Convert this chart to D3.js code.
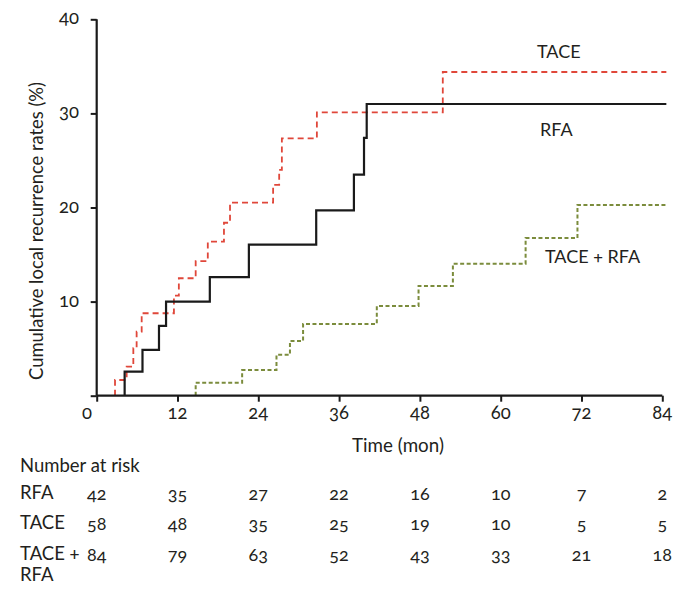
<!DOCTYPE html>
<html><head><meta charset="utf-8">
<script src="https://cdn.jsdelivr.net/npm/d3@7"></script>
<style>
body{margin:0;background:#fff;}
text{font-family:Lato,"Open Sans",sans-serif;fill:#231f20;font-variant-numeric:oldstyle-nums;}
</style></head>
<body><svg id="c" width="695" height="599"></svg>
<script>
// Step data (time in months, cumulative %)
const rfaTimes = [4.15, 6.8, 9.25, 10.3, 16.8, 22.6, 32.6, 38.2, 39.7, 40.1];
const rfaValues = [2.55, 4.86, 7.41, 10.0, 12.6, 16.05, 19.7, 23.5, 27.4, 31.0];
const taceTimes = [2.72, 4.45, 5.44, 5.93, 6.68, 11.47, 12.2, 14.7, 16.5, 18.9, 19.8, 26.2, 27.1, 27.5, 32.7, 51.4];
const taceValues = [1.67, 3.08, 5.04, 6.8, 8.76, 10.63, 12.48, 14.31, 16.37, 18.38, 20.51, 22.4, 24.0, 27.35, 30.1, 34.4];
const comboTimes = [14.7, 21.6, 26.7, 28.7, 30.65, 41.6, 47.8, 52.9, 63.7, 71.4];
const comboValues = [1.38, 2.73, 4.36, 5.81, 7.62, 9.53, 11.66, 14.03, 16.76, 20.27];
const xTicks = [0, 12, 24, 36, 48, 60, 72, 84];
const yTicks = [0, 10, 20, 30, 40];
const riskRFA = [42, 35, 27, 22, 16, 10, 7, 2];
const riskTACE = [58, 48, 35, 25, 19, 10, 5, 5];
const riskCombo = [84, 79, 63, 52, 43, 33, 21, 18];

const svg = d3.select("#c");
const x = d3.scaleLinear().domain([0, 84]).range([96.7, 662.3]);
const y = d3.scaleLinear().domain([0, 40]).range([395.7, 19.3]);

function pts(times, vals) {
  const p = [[times[0], 0]];
  times.forEach((t, i) => p.push([t, vals[i]]));
  p.push([84.6, vals[vals.length - 1]]);
  return p;
}
const line = d3.line().x(d => x(d[0])).y(d => y(d[1])).curve(d3.curveStepAfter);

svg.append("path").attr("d", line(pts(comboTimes, comboValues)))
  .attr("fill", "none").attr("stroke", "#7b8c3c").attr("stroke-width", 2).attr("stroke-dasharray", "4,2.5");
svg.append("path").attr("d", line(pts(taceTimes, taceValues)))
  .attr("fill", "none").attr("stroke", "#e0473a").attr("stroke-width", 1.8).attr("stroke-dasharray", "6,4");
svg.append("path").attr("d", line(pts(rfaTimes, rfaValues)))
  .attr("fill", "none").attr("stroke", "#1a1a1a").attr("stroke-width", 2.2);

// axes
const xAxis = svg.append("g").attr("transform", `translate(0,${y(0)})`)
  .call(d3.axisBottom(x).tickValues(xTicks).tickSize(6).tickFormat(""));
const yAxis = svg.append("g").attr("transform", `translate(${x(0)},0)`)
  .call(d3.axisLeft(y).tickValues(yTicks).tickSize(6).tickFormat(""));
[xAxis, yAxis].forEach(g => {
  g.select(".domain").attr("stroke", "#1a1a1a").attr("stroke-width", 2.2)
    .attr("d", g === xAxis ? `M${x(0)},0H${x(84)}` : `M0,${y(0)}V${y(40)}`);
  g.selectAll(".tick line").attr("stroke", "#1a1a1a").attr("stroke-width", 2);
});

// tick labels
svg.append("g").selectAll("text").data(xTicks).join("text")
  .attr("x", d => d === 0 ? 87 : x(d)).attr("y", 419)
  .attr("text-anchor", "middle").attr("font-size", 18.5).text(d => d);
svg.append("g").selectAll("text").data(yTicks.filter(d => d > 0)).join("text")
  .attr("x", 79).attr("y", d => y(d) + 5)
  .attr("text-anchor", "end").attr("font-size", 18.5).text(d => d);

// axis titles
svg.append("text").attr("x", 398).attr("y", 452).attr("text-anchor", "middle")
  .attr("font-size", 18.8).text("Time (mon)");
svg.append("text").attr("transform", "translate(43,231) rotate(-90)")
  .attr("text-anchor", "middle").attr("font-size", 18.4).text("Cumulative local recurrence rates (%)");

// curve labels
svg.append("text").attr("x", 537).attr("y", 58).attr("font-size", 18).text("TACE");
svg.append("text").attr("x", 540).attr("y", 136).attr("font-size", 18).text("RFA");
svg.append("text").attr("x", 545).attr("y", 263).attr("font-size", 18).text("TACE + RFA");

// risk table
svg.append("text").attr("x", 20).attr("y", 472).attr("font-size", 18.5).text("Number at risk");
const rows = [["RFA", riskRFA, 499], ["TACE", riskTACE, 529], ["TACE +", riskCombo, 560]];
rows.forEach(([lab, vals, yy]) => {
  svg.append("text").attr("x", 20).attr("y", yy).attr("font-size", 18.5).text(lab);
  svg.append("g").selectAll("text").data(vals).join("text")
    .attr("x", (d, i) => x(xTicks[i])).attr("y", yy + 1)
    .attr("text-anchor", "middle").attr("font-size", 18).text(d => d);
});
svg.append("text").attr("x", 20).attr("y", 581).attr("font-size", 18.5).text("RFA");
</script></body></html>
